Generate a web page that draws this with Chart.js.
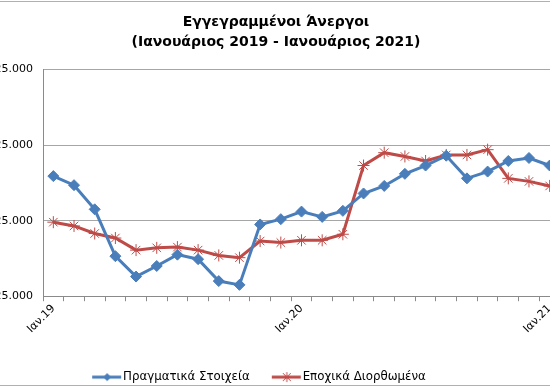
<!DOCTYPE html>
<html lang="el">
<head>
<meta charset="utf-8">
<title>Εγγεγραμμένοι Άνεργοι</title>
<script src="https://cdn.jsdelivr.net/npm/chart.js@4.4.1/dist/chart.umd.min.js"></script>
<style>
    html, body { margin: 0; padding: 0; background: #fff; }
    body { width: 550px; height: 388px; overflow: hidden; position: relative; }
    .frame { position: absolute; left: 0; width: 550px; height: 1px; background: #a3b3c4; z-index: 2; }
    #wrap { position: absolute; left: -23px; top: 0; width: 598px; height: 393px; }
</style>
</head>
<body>
<div class="frame" style="top:1px"></div>
<div class="frame" style="top:385px"></div>
<div id="wrap"><canvas id="myChart" width="598" height="393"></canvas></div>
<script>
// Μήνες (Ιαν.19 - Ιαν.21)
const months = [
    "Ιαν.19", "Φεβ.19", "Μαρ.19", "Απρ.19", "Μαϊ.19", "Ιουν.19", "Ιουλ.19", "Αυγ.19", "Σεπ.19", "Οκτ.19", "Νοε.19", "Δεκ.19",
    "Ιαν.20", "Φεβ.20", "Μαρ.20", "Απρ.20", "Μαϊ.20", "Ιουν.20", "Ιουλ.20", "Αυγ.20", "Σεπ.20", "Οκτ.20", "Νοε.20", "Δεκ.20",
    "Ιαν.21"
];

const actual = [
    984000, 972000, 940000, 878000, 851000, 865000, 880000, 874000, 845000, 840000, 920000, 927000,
    937000, 930000, 938000, 961000, 971000, 987000, 998000, 1011000, 981000, 990000, 1004000, 1008000,
    998000
];

const seasonal = [
    923000, 918000, 908000, 902000, 886000, 889000, 890000, 886000, 879000, 876000, 898000, 896000,
    899000, 899000, 907000, 998000, 1015000, 1010000, 1004000, 1012000, 1012000, 1019000, 981000, 977000,
    971000
];

const yTicks = [825000, 925000, 1025000, 1125000];

const seriesNames = ["Πραγματικά Στοιχεία", "Εποχικά Διορθωμένα"];

const BLUE = "#4a7ebb";
const RED = "#be4b48";

function formatNum(v) {
    return String(v).replace(/\B(?=(\d{3})+(?!\d))/g, ".");
}

// δείγμα γραμμής + σημείου για το υπόμνημα
// (το canvas είναι κεντραρισμένο στο κουτί, η γραμμή πιάνει το δεξί κομμάτι)
function legendIcon(color, style) {
    const c = document.createElement("canvas");
    c.width = 47;
    c.height = 12;
    const g = c.getContext("2d");
    const x0 = 17, x1 = 46, mid = 32;
    g.strokeStyle = color;
    g.lineWidth = 3;
    g.beginPath();
    g.moveTo(x0, 6);
    g.lineTo(x1, 6);
    g.stroke();
    if (style === "diamond") {
        g.fillStyle = color;
        g.beginPath();
        g.moveTo(mid, 2);
        g.lineTo(mid + 4, 6);
        g.lineTo(mid, 10);
        g.lineTo(mid - 4, 6);
        g.closePath();
        g.fill();
    } else {
        g.lineWidth = 1;
        g.beginPath();
        g.moveTo(mid - 4, 2); g.lineTo(mid + 4, 10);
        g.moveTo(mid + 4, 2); g.lineTo(mid - 4, 10);
        g.moveTo(mid, 1); g.lineTo(mid, 11);
        g.stroke();
    }
    return c;
}

const icons = [legendIcon(BLUE, "diamond"), legendIcon(RED, "star")];

// μετακίνηση υπομνήματος λίγο αριστερά, όπως στο πρωτότυπο
const legendShift = {
    id: "legendShift",
    afterLayout(chart) {
        chart.legend.left -= 23;
        chart.legend.right -= 23;
    },
};

const ctx = document.querySelector("#myChart");

new Chart(ctx, {
    type: "line",
    data: {
        labels: months,
        datasets: [
            {
                label: seriesNames[0],
                data: actual,
                borderColor: BLUE,
                backgroundColor: BLUE,
                borderWidth: 3,
                pointStyle: "rectRot",
                pointRadius: 5.5,
                pointBorderWidth: 1,
                tension: 0,
            },
            {
                label: seriesNames[1],
                data: seasonal,
                borderColor: RED,
                backgroundColor: RED,
                borderWidth: 3,
                pointStyle: "star",
                pointRadius: 6,
                pointBorderWidth: 1,
                tension: 0,
            },
        ],
    },
    options: {
        responsive: false,
        animation: false,
        layout: { padding: 0 },
        scales: {
            x: {
                offset: true,
                afterFit: (s) => {
                    s.height = 65;
                },
                grid: {
                    offset: true,
                    drawOnChartArea: false,
                    drawTicks: true,
                    tickLength: 5,
                    color: "#8a8a8a",
                },
                border: { color: "#8a8a8a" },
                ticks: {
                    autoSkip: false,
                    maxRotation: 45,
                    minRotation: 45,
                    padding: 1,
                    color: "#000",
                    font: { family: "DejaVu Sans", size: 11 },
                    callback: (val, i) => (i % 12 === 0 ? months[i] : ""),
                },
            },
            y: {
                min: yTicks[0],
                max: yTicks[yTicks.length - 1],
                afterBuildTicks: (s) => {
                    s.ticks = yTicks.map((v) => ({ value: v }));
                },
                afterFit: (s) => {
                    s.width = 66;
                },
                grid: { color: "#a6a6a6", drawTicks: false },
                border: { color: "#8a8a8a" },
                ticks: {
                    padding: 10,
                    color: "#000",
                    font: { family: "DejaVu Sans", size: 11 },
                    callback: (v) => formatNum(v),
                },
            },
            yR: {
                type: "linear",
                position: "right",
                display: true,
                grid: { display: false, drawTicks: false },
                border: { display: false },
                ticks: { display: false },
                afterFit: (s) => {
                    s.width = 15;
                },
            },
        },
        plugins: {
            title: {
                display: true,
                text: ["Εγγεγραμμένοι Άνεργοι", "(Ιανουάριος 2019 - Ιανουάριος 2021)"],
                color: "#000",
                font: { family: "DejaVu Sans", size: 14, weight: "bold", lineHeight: 1.45 },
                padding: { top: 12, bottom: 17 },
            },
            legend: {
                position: "bottom",
                labels: {
                    usePointStyle: true,
                    pointStyleWidth: 37,
                    boxHeight: 12,
                    padding: 10,
                    color: "#000",
                    font: { family: "DejaVu Sans", size: 11.8 },
                    generateLabels: (chart) =>
                        chart.data.datasets.map((ds, i) => ({
                            text: ds.label,
                            pointStyle: icons[i],
                            fillStyle: ds.borderColor,
                            strokeStyle: ds.borderColor,
                            lineWidth: 0,
                            datasetIndex: i,
                            hidden: false,
                        })),
                },
            },
            tooltip: { enabled: false },
        },
    },
    plugins: [legendShift],
});
</script>
</body>
</html>
